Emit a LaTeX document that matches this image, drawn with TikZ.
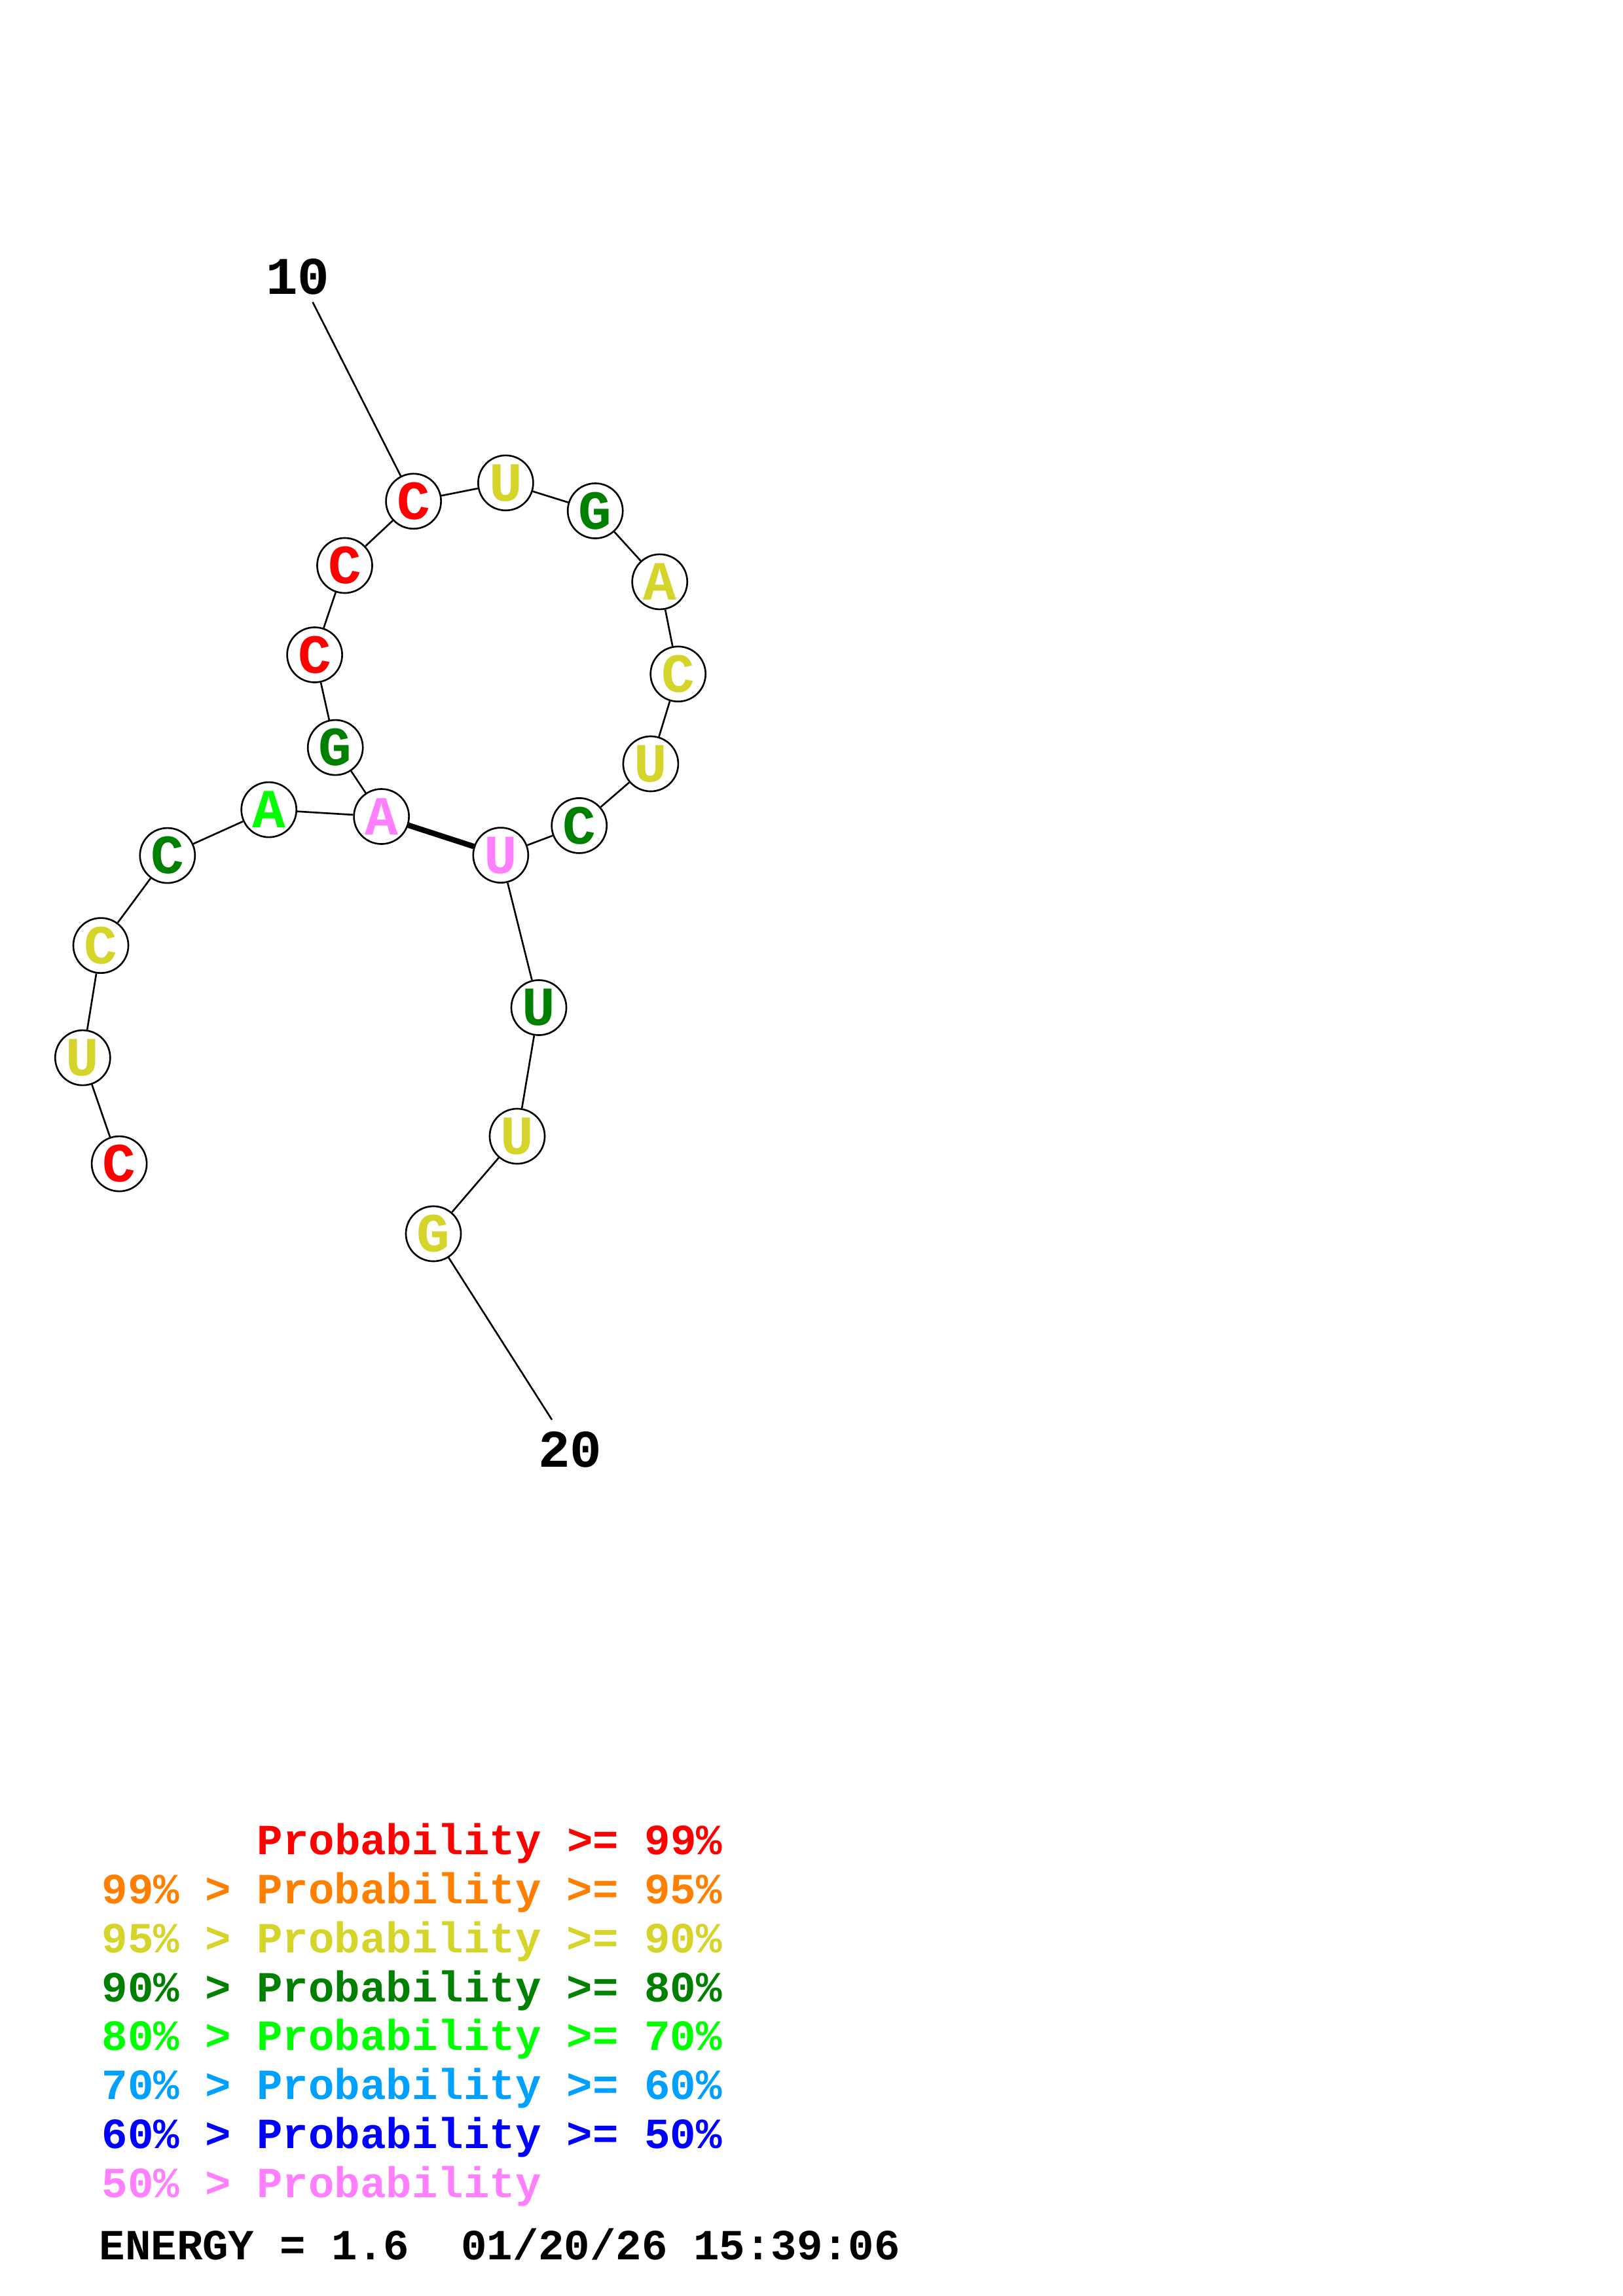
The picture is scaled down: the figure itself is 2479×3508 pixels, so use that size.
\documentclass[tikz,border=0pt]{standalone}
\usepackage{fontspec}
\setmonofont{Liberation Mono}
\definecolor{pRed}{RGB}{255,0,0}
\definecolor{pOrange}{RGB}{255,128,0}
\definecolor{pYellow}{RGB}{212,212,42}
\definecolor{pGreen}{RGB}{0,128,0}
\definecolor{pLime}{RGB}{0,255,0}
\definecolor{pSky}{RGB}{0,160,255}
\definecolor{pBlue}{RGB}{0,0,255}
\definecolor{pPink}{RGB}{255,128,255}
\tikzset{
    nuc/.style={circle,draw,line width=0.75pt,fill=white,minimum size=0.84cm,inner sep=0pt,
        font=\ttfamily\bfseries\fontsize{24}{24}\selectfont},
    backbone/.style={line width=0.75pt},
    basepair/.style={line width=2.4pt},
    numlabel/.style={inner sep=0pt,font=\ttfamily\bfseries\fontsize{23}{23}\selectfont},
    legend/.style={anchor=base west,inner sep=0pt,font=\ttfamily\bfseries\fontsize{18.7}{20}\selectfont}
}
\newcommand\Nuc[5]{%
    \node[nuc,text=#4] (#1) at (#2,#3) {#5};
}
\newcommand\LegendLine[3]{%
    \node[legend,text=#2] (leg#1) at (155,{2833.7+74.8*#1}) {#3};
}

\begin{document}
\begin{tikzpicture}[x=0.01cm,y=-0.01cm]
    \useasboundingbox (0,0) rectangle (2479,3508);
    % bases
    \Nuc{n1}{182.1}{1778.1}{pRed}{C}
    \Nuc{n2}{126.3}{1616.1}{pYellow}{U}
    \Nuc{n3}{154.0}{1444.6}{pYellow}{C}
    \Nuc{n4}{255.8}{1307.1}{pGreen}{C}
    \Nuc{n5}{410.7}{1237.1}{pLime}{A}
    \Nuc{n6}{582.6}{1247.5}{pPink}{A}
    \Nuc{n7}{512.2}{1142.1}{pGreen}{G}
    \Nuc{n8}{480.6}{1000.5}{pRed}{C}
    \Nuc{n9}{526.5}{864.0}{pRed}{C}
    \Nuc{n10}{631.6}{765.8}{pRed}{C}
    \Nuc{n11}{772.4}{737.8}{pYellow}{U}
    \Nuc{n12}{909.2}{780.5}{pGreen}{G}
    \Nuc{n13}{1007.7}{888.9}{pYellow}{A}
    \Nuc{n14}{1035.7}{1029.8}{pYellow}{C}
    \Nuc{n15}{993.9}{1167.0}{pYellow}{U}
    \Nuc{n16}{884.7}{1261.4}{pGreen}{C}
    \Nuc{n17}{764.8}{1306.6}{pPink}{U}
    \Nuc{n18}{823.0}{1539.5}{pGreen}{U}
    \Nuc{n19}{790.0}{1736.0}{pYellow}{U}
    \Nuc{n20}{662.0}{1885.0}{pYellow}{G}
    % backbone and pair
    \foreach \a/\b in {1/2,2/3,3/4,4/5,5/6,6/7,7/8,8/9,9/10,10/11,11/12,12/13,13/14,14/15,15/16,16/17,17/18,18/19,19/20}
        \draw[backbone] (n\a) -- (n\b);
    \draw[basepair] (n6) -- (n17);
    % numbering
    \node[numlabel] (lab10) at (454.6,423.3) {10};
    \node[numlabel] (lab20) at (870.7,2215.2) {20};
    \coordinate (tick10) at (477.6,461.6);
    \coordinate (tick20) at (843.0,2169.2);
    \draw[backbone] (tick10) -- (n10);
    \draw[backbone] (n20) -- (tick20);
    % legend
    \node[legend,text=pRed] (leg0) at (392,2833.7) {Probability >= 99\%};
    \LegendLine{1}{pOrange}{99\% > Probability >= 95\%}
    \LegendLine{2}{pYellow}{95\% > Probability >= 90\%}
    \LegendLine{3}{pGreen}{90\% > Probability >= 80\%}
    \LegendLine{4}{pLime}{80\% > Probability >= 70\%}
    \LegendLine{5}{pSky}{70\% > Probability >= 60\%}
    \LegendLine{6}{pBlue}{60\% > Probability >= 50\%}
    \LegendLine{7}{pPink}{50\% > Probability}
    \node[legend] (energy) at (151,3452.6) {ENERGY = 1.6\ \ 01/20/26 15:39:06};
\end{tikzpicture}
\end{document}
